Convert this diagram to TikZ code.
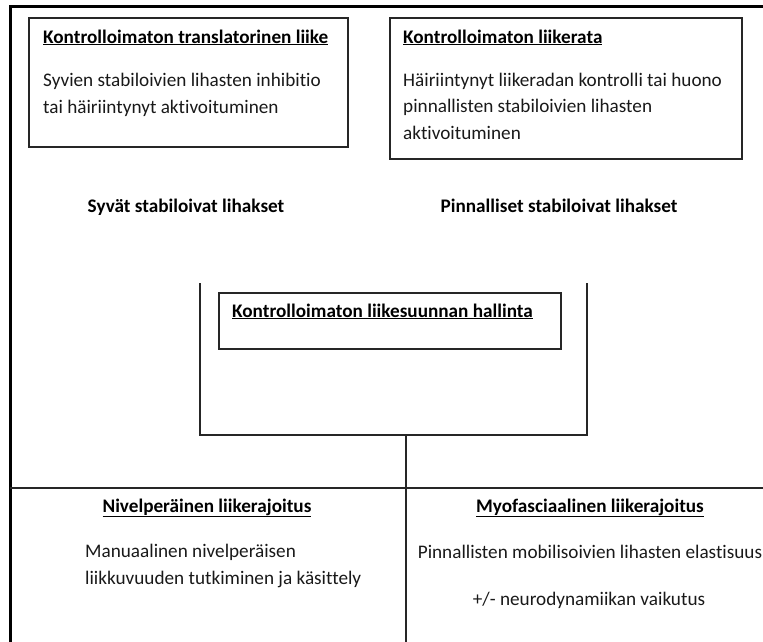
\documentclass[tikz,border=0pt]{standalone}
\usepackage{fontspec}
\setmainfont{Carlito}[Ligatures={NoCommon}]
\begin{document}
\begin{tikzpicture}[x=1pt,y=-1pt,
  thinbox/.style={draw=black!85,line width=1.1pt},
  thick frame/.style={draw=black,line width=3pt},
  body/.style={inner sep=0pt,font=\fontsize{19.2}{23}\selectfont,text=black!90},
  head/.style={inner sep=0pt,font=\fontsize{19.2}{23}\selectfont\bfseries,text=black},
  rule/.style={draw=black!85,line width=1.1pt}]
\useasboundingbox (0,0) rectangle (763,641);
% outer frame
\coordinate (fTL) at (10,6);
\coordinate (fTR) at (765,6);
\coordinate (fBL) at (10,643);
\draw[thick frame] (fTR) -- (fTL) -- (fBL);
% box 1
\draw[thinbox] (29,18) rectangle (348,147);
\node[head,anchor=base west] (h1) at (43,43) {\underline{Kontrolloimaton translatorinen liike}};
\node[body,anchor=base west] (b1a) at (43,86) {Syvien stabiloivien lihasten inhibitio};
\node[body,anchor=base west] (b1b) at (43,113) {tai häiriintynyt aktivoituminen};
% box 2
\draw[thinbox] (390,18) rectangle (742,159);
\node[head,anchor=base west] (h2) at (403,43) {\underline{Kontrolloimaton liikerata}};
\node[body,anchor=base west] (b2a) at (403,86) {Häiriintynyt liikeradan kontrolli tai huono};
\node[body,anchor=base west] (b2b) at (403,112) {pinnallisten stabiloivien lihasten};
\node[body,anchor=base west] (b2c) at (403,139) {aktivoituminen};
% middle labels
\node[head,anchor=base] (syv) at (186,212) {Syvät stabiloivat lihakset};
\node[head,anchor=base] (pin) at (559,212) {Pinnalliset stabiloivat lihakset};
% U shape
\coordinate (uTL) at (200,283);
\coordinate (uBL) at (200,435);
\coordinate (uBR) at (587,435);
\coordinate (uTR) at (587,283);
\draw[rule] (uTL) -- (uBL) -- (uBR) -- (uTR);
% inner box
\draw[thinbox] (219,293) rectangle (561,349);
\node[head,anchor=base west] (h3) at (232,317) {\underline{Kontrolloimaton liikesuunnan hallinta}};
% connector down
\coordinate (uMid) at (406,435);
\coordinate (bMid) at (406,643);
\draw[rule] (uMid) -- (bMid);
% horizontal divider
\coordinate (dL) at (10,488);
\coordinate (dR) at (765,488);
\draw[rule] (dL) -- (dR);
% bottom left
\node[head,anchor=base] (h4) at (207,512) {\underline{Nivelperäinen liikerajoitus}};
\node[body,anchor=base west] (b4a) at (85,557) {Manuaalinen nivelperäisen};
\node[body,anchor=base west] (b4b) at (85,584) {liikkuvuuden tutkiminen ja käsittely};
% bottom right
\node[head,anchor=base] (h5) at (590,512) {\underline{Myofasciaalinen liikerajoitus}};
\node[body,anchor=base] (b5a) at (590,558) {Pinnallisten mobilisoivien lihasten elastisuus};
\node[body,anchor=base] (b5b) at (589,605) {+/- neurodynamiikan vaikutus};
\end{tikzpicture}
\end{document}
